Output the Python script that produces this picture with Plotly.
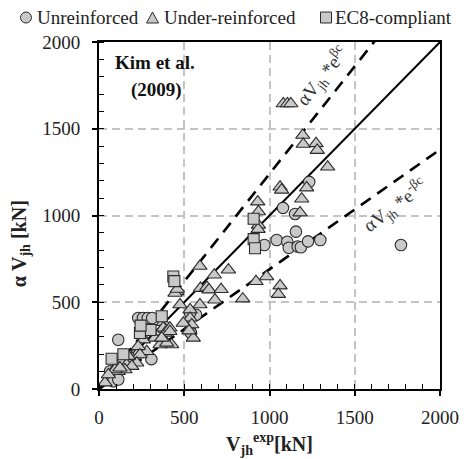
import plotly.graph_objects as go

# ---------------- data (kN) ----------------
unrein_x = [1233, 1079, 1150, 1155, 1042, 1104, 1113, 1165, 1184, 1226, 1298, 970, 1771,
            569, 534, 534, 540, 230, 258, 286, 312, 113, 250, 307, 65, 74, 104, 84, 113]
unrein_y = [1194, 1044, 1009, 907, 859, 849, 814, 821, 817, 851, 859, 830, 830,
            428, 438, 337, 322, 409, 409, 409, 409, 284, 307, 172, 102, 74, 83, 45, 55]

under_x = [1081, 1105, 1125, 1195, 1198, 1273, 1280, 1341, 1062, 1071, 1218, 1189, 1179,
           931, 935, 935, 933, 592, 676, 759, 921, 983, 1062, 1052, 843,
           595, 632, 645, 716, 680, 592, 475, 456, 446, 459, 534, 534, 544, 494, 553, 528,
           426, 358, 397, 377, 387, 377, 387, 416, 416, 328, 368,
           230, 221, 192, 260, 280, 230, 240, 182, 221,
           133, 162, 172, 192, 104, 113, 152, 94, 123, 35, 55]
under_y = [1645, 1645, 1645, 1463, 1411, 1415, 1376, 1280, 1165, 1147, 1160, 1096, 1016,
           1079, 1022, 945, 921, 708, 658, 687, 620, 648, 595, 546, 520,
           581, 587, 572, 574, 514, 486, 486, 562, 553, 576, 457, 409, 371, 380, 294, 336,
           256, 256, 265, 385, 345, 352, 323, 352, 332, 294, 294,
           237, 198, 179, 284, 217, 246, 198, 170, 151,
           160, 141, 189, 131, 131, 102, 112, 112, 122, 36, 83]

ec8_x = [907, 907, 915, 436, 442, 368, 302, 240, 244, 74, 143]
ec8_y = [981, 864, 811, 648, 622, 419, 340, 323, 365, 174, 200]

series_names = ["Unreinforced", "Under-reinforced", "EC8-compliant"]

line_x = [0, 2000]
slope_mean = 1.0
slope_upper = 1.24
slope_lower = 0.69

tick_vals = [0, 500, 1000, 1500, 2000]
tick_text = ["0", "500", "1000", "1500", "2000"]

# ---------------- styling ----------------
FONT = "Liberation Serif, DejaVu Serif, Times New Roman, serif"
FILL = "#c9c9c9"
EDGE = "#2b2b2b"
W, H = 469, 459
ML, MR, MT, MB = 99, 29, 42, 70
PW, PH = W - ML - MR, H - MT - MB


def px2paper(px, py):
    return (px - ML) / PW, (H - MB - py) / PH


fig = go.Figure()

fig.add_trace(go.Scatter(x=line_x, y=[slope_upper * v for v in line_x], mode="lines",
                         line=dict(color="black", width=2.6, dash="12px,8px"),
                         showlegend=False, hoverinfo="skip"))
fig.add_trace(go.Scatter(x=line_x, y=[slope_lower * v for v in line_x], mode="lines",
                         line=dict(color="black", width=2.6, dash="12px,8px"),
                         showlegend=False, hoverinfo="skip"))
fig.add_trace(go.Scatter(x=line_x, y=[slope_mean * v for v in line_x], mode="lines",
                         line=dict(color="black", width=2),
                         showlegend=False, hoverinfo="skip"))

fig.add_trace(go.Scatter(x=unrein_x, y=unrein_y, mode="markers", name=series_names[0],
                         marker=dict(symbol="circle", size=11.5, color=FILL,
                                     line=dict(color=EDGE, width=1.1))))
fig.add_trace(go.Scatter(x=under_x, y=under_y, mode="markers", name=series_names[1],
                         marker=dict(symbol="triangle-up", size=12.5, color=FILL,
                                     line=dict(color=EDGE, width=1.1))))
fig.add_trace(go.Scatter(x=ec8_x, y=ec8_y, mode="markers", name=series_names[2],
                         marker=dict(symbol="square", size=11, color=FILL,
                                     line=dict(color=EDGE, width=1.1))))

axis_common = dict(
    range=[0, 2000], tickvals=tick_vals, ticktext=tick_text,
    showline=True, linecolor="black", linewidth=2, mirror=True,
    ticks="outside", ticklen=5, tickwidth=1.5, tickcolor="black",
    minor=dict(dtick=100, ticks="inside", ticklen=5, tickwidth=1, tickcolor="black",
               showgrid=False),
    showgrid=True, gridcolor="#c4c4c4", gridwidth=1.5, griddash="8px,5px",
    zeroline=False,
    tickfont=dict(family=FONT, size=19, color="#222"),
)

fig.update_xaxes(**axis_common, ticklabelstandoff=5,
                 title=dict(text="<b>V<sub>jh</sub><sup>exp</sup>[kN]</b>",
                            font=dict(family=FONT, size=20, color="#222"), standoff=10))
fig.update_yaxes(**axis_common, ticklabelstandoff=8)

fig.add_annotation(text="<b>α V<sub>jh</sub> [kN]</b>", xref="paper", yref="paper",
                   x=-0.232, y=0.42, xanchor="center", yanchor="middle",
                   textangle=-90, showarrow=False,
                   font=dict(family=FONT, size=20, color="#222"))

fig.add_annotation(text="<b>Kim et al.</b>", x=328, y=1880, showarrow=False,
                   font=dict(family=FONT, size=19, color="#111"))
fig.add_annotation(text="<b>(2009)</b>", x=338, y=1725, showarrow=False,
                   font=dict(family=FONT, size=19, color="#111"))

fig.add_annotation(text="αV<sub>jh</sub> *e<sup>βc</sup>", x=1308, y=1800, showarrow=False,
                   textangle=-51, font=dict(family=FONT, size=19, color="#333"))
fig.add_annotation(text="αV<sub>jh</sub> *e<sup>-βc</sup>", x=1735, y=1060, showarrow=False,
                   textangle=-37, font=dict(family=FONT, size=19, color="#333"))

# ---------------- custom legend (top row) ----------------
leg_sym_px = [26, 152.5, 326]
leg_txt_px = [35, 162, 333]
leg_py = 17.5
r = 5.5
# circle
x0, y0 = px2paper(leg_sym_px[0] - r, leg_py + r)
x1, y1 = px2paper(leg_sym_px[0] + r, leg_py - r)
fig.add_shape(type="circle", xref="paper", yref="paper", x0=x0, y0=y0, x1=x1, y1=y1,
              fillcolor=FILL, line=dict(color=EDGE, width=1))
# triangle
tx = leg_sym_px[1]
pa = px2paper(tx - 6, leg_py + 5.5)
pb = px2paper(tx + 6, leg_py + 5.5)
pc = px2paper(tx, leg_py - 5.5)
fig.add_shape(type="path", xref="paper", yref="paper",
              path=f"M {pa[0]} {pa[1]} L {pb[0]} {pb[1]} L {pc[0]} {pc[1]} Z",
              fillcolor=FILL, line=dict(color=EDGE, width=1))
# square
x0, y0 = px2paper(leg_sym_px[2] - r, leg_py + r)
x1, y1 = px2paper(leg_sym_px[2] + r, leg_py - r)
fig.add_shape(type="rect", xref="paper", yref="paper", x0=x0, y0=y0, x1=x1, y1=y1,
              fillcolor=FILL, line=dict(color=EDGE, width=1))
for name, tpx in zip(series_names, leg_txt_px):
    ax_, ay_ = px2paper(tpx, leg_py)
    fig.add_annotation(text=name, xref="paper", yref="paper", x=ax_, y=ay_,
                       xanchor="left", yanchor="middle", showarrow=False,
                       font=dict(family=FONT, size=19, color="#222"))

fig.update_layout(
    width=W, height=H,
    margin=dict(l=ML, r=MR, t=MT, b=MB, autoexpand=False),
    paper_bgcolor="white", plot_bgcolor="white",
    showlegend=False,
)

fig.write_html("out.html")
